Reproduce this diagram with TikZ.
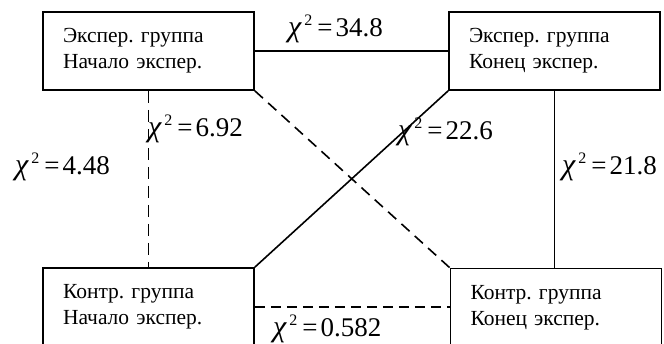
\documentclass[tikz,border=0pt]{standalone}
\usepackage{fontspec}
\setmainfont{Liberation Serif}
\frenchspacing
\begin{document}
\begin{tikzpicture}[x=1pt,y=-1pt,
  box/.style={draw,line width=1.6pt,rectangle,minimum width=211pt,minimum height=78pt,
    inner xsep=20pt,inner ysep=0pt,text width=171pt,align=left,
    font=\fontsize{21.5}{26}\selectfont},
  conn/.style={line width=1.6pt},
  dconn/.style={line width=1.6pt,dash pattern=on 12pt off 7pt},
  lab/.style={anchor=base west,inner sep=0pt,font=\fontsize{27}{30}\selectfont}]
\useasboundingbox (0,0) rectangle (664,344);
\begin{scope}
\clip (0,0) rectangle (664,344);
\node[box] (A) at (148.5,51) {Экспер. группа\\Начало экспер.};
\node[box] (B) at (554.5,51) {Экспер. группа\\Конец экспер.};
\node[box] (C) at (148.5,307) {Контр. группа\\Начало экспер.};
\node[box] (D) at (556,307.5) {Контр. группа\\Конец экспер.};
\end{scope}
\draw[conn] (A.east) -- (B.west);
\draw[dconn] (A.south) -- (C.north);
\draw[conn] (B.south) -- (B.south |- D.north);
\draw[dconn,dash pattern=on 10pt off 6pt] (C.east) -- (C.east -| D.west);
\draw[conn] (B.south west) -- (C.north east);
\draw[dconn,dash pattern=on 11pt off 7pt] (A.south east) -- (D.north west);
\newcommand\chilab[1]{{\fontsize{30}{30}\selectfont\itshape χ}\kern3pt\raisebox{11pt}{\fontsize{16}{16}\selectfont 2}\kern5pt=\kern3pt #1}
\node[lab] (l1) at (288,37) {\chilab{34.8}};
\node[lab] (l2) at (148,137) {\chilab{6.92}};
\node[lab] (l3) at (15,175) {\chilab{4.48}};
\node[lab] (l4) at (398,140) {\chilab{22.6}};
\node[lab] (l5) at (562,175) {\chilab{21.8}};
\node[lab] (l6) at (273,337) {\chilab{0.582}};
\end{tikzpicture}
\end{document}
